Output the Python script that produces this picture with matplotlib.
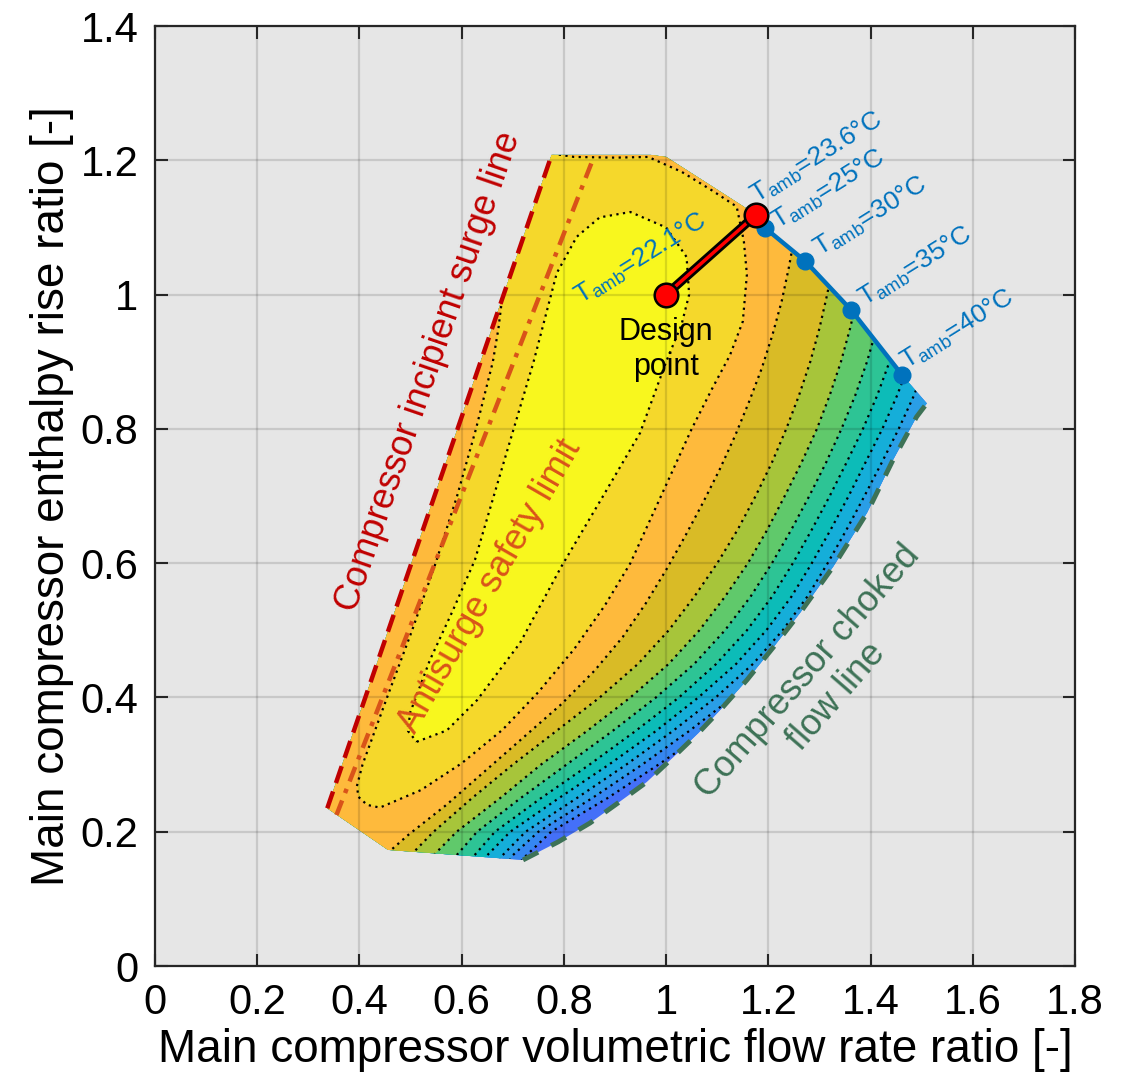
import numpy as np
import matplotlib
matplotlib.use("Agg")
import matplotlib.pyplot as plt
from matplotlib.path import Path
from matplotlib.patches import PathPatch

plt.rcParams['font.family'] = ['Liberation Sans', 'DejaVu Sans']
plt.rcParams['mathtext.fontset'] = 'custom'
plt.rcParams['mathtext.rm'] = 'Liberation Sans'
plt.rcParams['mathtext.it'] = 'Liberation Sans:italic'

# operating envelope of the compressor map
surge_x = [0.337, 0.776]
surge_y = [0.235, 1.208]
anti_x = [0.355, 0.857]
anti_y = [0.225, 1.202]
choke_x = [0.72, 0.789, 0.851, 0.906, 0.962, 1.014, 1.063, 1.109, 1.158, 1.21, 1.262, 1.327, 1.393, 1.444, 1.49, 1.51]
choke_y = [0.158, 0.185, 0.213, 0.243, 0.274, 0.311, 0.347, 0.384, 0.426, 0.475, 0.526, 0.595, 0.675, 0.754, 0.818, 0.838]
top_x = [0.776, 0.97, 1.0, 1.08, 1.176]
top_y = [1.208, 1.208, 1.205, 1.166, 1.119]
bottom_x = [0.72, 0.456, 0.337]
bottom_y = [0.158, 0.173, 0.235]

# off-design points for increasing ambient temperature
tamb_vals = ['23.6', '25', '30', '35', '40']
tamb_x = [1.176, 1.194, 1.272, 1.362, 1.462]
tamb_y = [1.119, 1.099, 1.05, 0.977, 0.88]
design_x, design_y = 1.0, 1.0
design_label = '22.1'

# iso-efficiency lines (level 11 = innermost)
iso11_x = [0.512, 0.571, 0.63, 0.714, 0.795, 0.872, 0.949, 1.0, 1.03, 1.045, 1.04, 1.0, 0.93, 0.87,
           0.825, 0.786, 0.74, 0.69, 0.655, 0.626, 0.583, 0.538, 0.499, 0.495]
iso11_y = [0.334, 0.351, 0.396, 0.481, 0.595, 0.694, 0.794, 0.9, 0.955, 1.0, 1.056, 1.1, 1.123, 1.115,
           1.086, 1.032, 0.898, 0.77, 0.68, 0.605, 0.53, 0.456, 0.377, 0.35]
iso10_x = [0.70, 0.76, 0.82, 0.90, 0.965, 1.03, 1.09, 1.138, 1.152, 1.158, 1.15, 1.125, 1.09, 1.05,
           0.99, 0.93, 0.88, 0.82, 0.75, 0.68, 0.60, 0.52, 0.44, 0.415, 0.398, 0.395, 0.406, 0.454,
           0.503, 0.549, 0.591, 0.628, 0.661, 0.672, 0.68, 0.70]
iso10_y = [1.26, 1.212, 1.205, 1.204, 1.205, 1.183, 1.155, 1.131, 1.08, 1.03, 0.96, 0.91, 0.86, 0.80,
           0.70, 0.60, 0.537, 0.472, 0.408, 0.352, 0.302, 0.262, 0.236, 0.24, 0.252, 0.268, 0.30, 0.40,
           0.50, 0.60, 0.70, 0.80, 0.90, 0.95, 1.0, 1.1]
iso9_x = [0.43, 0.45, 0.495, 0.57, 0.645, 0.72, 0.795, 0.86, 0.915, 0.96, 1.0, 1.037, 1.072, 1.105,
          1.135, 1.162, 1.187, 1.208, 1.226, 1.24, 1.252]
iso9_y = [0.145, 0.165, 0.195, 0.24, 0.29, 0.34, 0.39, 0.44, 0.49, 0.54, 0.59, 0.64, 0.69, 0.74,
          0.79, 0.84, 0.89, 0.94, 0.99, 1.04, 1.09]
iso8_x = [0.48, 0.50, 0.545, 0.62, 0.70, 0.785, 0.87, 0.945, 1.005, 1.055, 1.10, 1.14, 1.175, 1.207,
          1.235, 1.26, 1.282, 1.30, 1.315, 1.328]
iso8_y = [0.14, 0.165, 0.2, 0.25, 0.30, 0.35, 0.40, 0.45, 0.50, 0.55, 0.60, 0.65, 0.70, 0.75,
          0.80, 0.85, 0.90, 0.95, 1.0, 1.05]
iso7_x = [0.525, 0.545, 0.59, 0.675, 0.755, 0.845, 0.93, 1.005, 1.065, 1.115, 1.16, 1.198, 1.232, 1.265,
          1.295, 1.32, 1.342, 1.36, 1.375, 1.388]
iso7_y = [0.14, 0.165, 0.2, 0.25, 0.30, 0.35, 0.40, 0.45, 0.50, 0.55, 0.60, 0.65, 0.70, 0.75,
          0.80, 0.85, 0.90, 0.95, 1.0, 1.05]
iso6_x = [0.57, 0.59, 0.63, 0.715, 0.805, 0.895, 0.98, 1.055, 1.115, 1.165, 1.207, 1.245, 1.28, 1.313,
          1.343, 1.37, 1.393, 1.412, 1.428]
iso6_y = [0.14, 0.165, 0.2, 0.25, 0.30, 0.35, 0.40, 0.45, 0.50, 0.55, 0.60, 0.65, 0.70, 0.75,
          0.80, 0.85, 0.90, 0.95, 1.0]
iso5_x = [0.605, 0.625, 0.665, 0.755, 0.85, 0.94, 1.025, 1.098, 1.158, 1.207, 1.248, 1.285, 1.32, 1.353,
          1.385, 1.413, 1.437, 1.458]
iso5_y = [0.14, 0.165, 0.2, 0.25, 0.30, 0.35, 0.40, 0.45, 0.50, 0.55, 0.60, 0.65, 0.70, 0.75,
          0.80, 0.85, 0.90, 0.95]
iso4_x = [0.63, 0.65, 0.695, 0.79, 0.888, 0.98, 1.063, 1.137, 1.196, 1.245, 1.285, 1.322, 1.357, 1.39,
          1.423, 1.452, 1.477]
iso4_y = [0.14, 0.165, 0.2, 0.25, 0.30, 0.35, 0.40, 0.45, 0.50, 0.55, 0.60, 0.65, 0.70, 0.75,
          0.80, 0.85, 0.90]
iso3_x = [0.66, 0.68, 0.725, 0.825, 0.922, 1.013, 1.097, 1.17, 1.228, 1.276, 1.316, 1.353, 1.388, 1.422,
          1.455, 1.485, 1.51]
iso3_y = [0.14, 0.165, 0.2, 0.25, 0.30, 0.35, 0.40, 0.45, 0.50, 0.55, 0.60, 0.65, 0.70, 0.75,
          0.80, 0.85, 0.90]
iso2_x = [0.68, 0.70, 0.75, 0.855, 0.953, 1.045, 1.13, 1.20, 1.26]
iso2_y = [0.14, 0.165, 0.2, 0.25, 0.30, 0.35, 0.40, 0.45, 0.50]
iso1_x = [0.70, 0.72, 0.775, 0.885, 0.985, 1.08, 1.165]
iso1_y = [0.14, 0.16, 0.2, 0.25, 0.30, 0.35, 0.40]

band_colors = ['#4470F8', '#3587F2', '#2A9EE6', '#15AED9', '#0CBCB8', '#2DC495',
               '#60C96B', '#A7C53A', '#D9BB26', '#FEBA3C', '#F5D82B', '#F8F71E']

open_lines = [(1, iso1_x, iso1_y), (2, iso2_x, iso2_y), (3, iso3_x, iso3_y), (4, iso4_x, iso4_y),
              (5, iso5_x, iso5_y), (6, iso6_x, iso6_y), (7, iso7_x, iso7_y), (8, iso8_x, iso8_y),
              (9, iso9_x, iso9_y)]
closed_lines = [(10, iso10_x, iso10_y), (11, iso11_x, iso11_y)]

fig = plt.figure(figsize=(11.29, 10.89), dpi=100)
ax = fig.add_axes([0.1373, 0.1129, 0.8149, 0.8632])
ax.set_facecolor('#E6E6E6')

# envelope polygon, used as clip for the map
env_x = surge_x + top_x[1:] + tamb_x[1:] + choke_x[::-1] + bottom_x[1:]
env_y = surge_y + top_y[1:] + tamb_y[1:] + choke_y[::-1] + bottom_y[1:]
env = PathPatch(Path(np.column_stack([env_x, env_y])), transform=ax.transData,
                fc='none', ec='none')
ax.add_patch(env)

base, = ax.fill(env_x, env_y, color=band_colors[0], lw=0, zorder=1)
for k, xs, ys in open_lines:
    p, = ax.fill(xs + [1.8, 1.8, -0.1, -0.1, xs[0]], ys + [1.0, 1.6, 1.6, -0.1, -0.1],
                 color=band_colors[k], lw=0, zorder=1)
    p.set_clip_path(env)
for k, xs, ys in closed_lines:
    p, = ax.fill(xs, ys, color=band_colors[k], lw=0, zorder=1)
    p.set_clip_path(env)
for k, xs, ys in open_lines + closed_lines:
    if k >= 10:
        xs, ys = xs + xs[:1], ys + ys[:1]
    ln, = ax.plot(xs, ys, color='k', lw=1.6, ls=(0, (1, 2.0)), zorder=1.2)
    ln.set_clip_path(env)

ax.plot(surge_x, surge_y, color='#C00000', lw=3.2, dashes=(4, 2), zorder=3)
ax.plot(anti_x, anti_y, color='#D95319', lw=3.2, dashes=(3.5, 1.8, 1, 1.8), zorder=3)
ax.plot(choke_x, choke_y, color='#3D7256', lw=3.5, dashes=(3.5, 3), zorder=3)

ax.plot(tamb_x, tamb_y, color='#0072BD', lw=3.2, zorder=4)
ax.plot(tamb_x[1:], tamb_y[1:], 'o', color='#0072BD', ms=12, zorder=4)
ax.plot([design_x, tamb_x[0]], [design_y, tamb_y[0]], color='k', lw=6.5, zorder=5,
        solid_capstyle='butt')
ax.plot([design_x, tamb_x[0]], [design_y, tamb_y[0]], color='#FF0000', lw=2.5, zorder=5,
        solid_capstyle='butt')
ax.plot([design_x, tamb_x[0]], [design_y, tamb_y[0]], 'o', color='#FF0000', mec='k',
        mew=1.8, ms=17, zorder=6)

lab_x = [1.177, 1.219, 1.301, 1.389, 1.471]
lab_y = [1.135, 1.096, 1.056, 0.982, 0.888]
for v, lx, ly in zip(tamb_vals, lab_x, lab_y):
    ax.text(lx, ly, r'$\mathrm{T_{amb}}$=' + v + '°C', color='#0072BD', fontsize=19,
            rotation=32, rotation_mode='anchor', ha='left', va='baseline', zorder=7)
ax.text(0.832, 0.985, r'$\mathrm{T_{amb}}$=' + design_label + '°C', color='#0072BD',
        fontsize=19, rotation=32, rotation_mode='anchor', ha='left', va='baseline', zorder=7)
ax.text(1.0, 0.918, 'Design\npoint', fontsize=22, ha='center', va='center', zorder=7)

ax.text(0.536, 0.885, 'Compressor incipient surge line', color='#C00000', fontsize=26,
        rotation=71, rotation_mode='anchor', ha='center', va='center', zorder=7)
ax.text(0.656, 0.566, 'Antisurge safety limit', color='#D95319', fontsize=26,
        rotation=60, rotation_mode='anchor', ha='center', va='center', zorder=7)
ax.text(1.305, 0.42, 'Compressor choked\nflow line', color='#3D7256', fontsize=26,
        rotation=49, rotation_mode='anchor', ha='center', va='center',
        multialignment='center', linespacing=1.1, zorder=7)

ax.set_xlim(0, 1.8)
ax.set_ylim(0, 1.4)
xt = np.round(np.arange(0, 1.81, 0.2), 1)
yt = np.round(np.arange(0, 1.41, 0.2), 1)
ax.set_xticks(xt)
ax.set_yticks(yt)
ax.set_xticklabels(['%g' % t for t in xt])
ax.set_yticklabels(['%g' % t for t in yt])
ax.tick_params(direction='in', length=9, width=1.5, top=True, right=True,
               labelsize=30, pad=12, color='#262626')
ax.set_axisbelow('line')
ax.grid(True, color='k', alpha=0.13, lw=1.6)
for s in ax.spines.values():
    s.set_linewidth(1.6)
    s.set_color('#262626')
ax.set_xlabel('Main compressor volumetric flow rate ratio [-]', fontsize=33, labelpad=4)
ax.set_ylabel('Main compressor enthalpy rise ratio [-]', fontsize=33, labelpad=5)

fig.savefig('out.png', dpi=100)
